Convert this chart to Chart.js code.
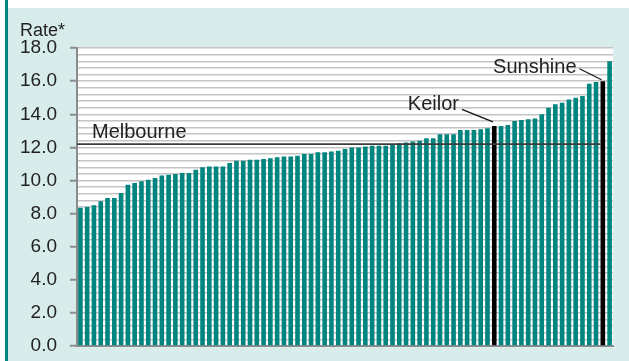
<!DOCTYPE html>
<html>
<head>
<meta charset="utf-8">
<script src="https://cdn.jsdelivr.net/npm/chart.js@4"></script>
<style>
  html, body { margin: 0; padding: 0; background: #fff; }
  #wrap { width: 629px; height: 361px; }
</style>
</head>
<body>
<div id="wrap"><canvas id="chart" width="629" height="361"></canvas></div>
<script>
// rate per area, sorted ascending
var rates = [
  8.35, 8.4, 8.5, 8.75, 8.95, 8.95, 9.25, 9.75, 9.85, 9.95,
  10.05, 10.15, 10.3, 10.35, 10.4, 10.45, 10.45, 10.65, 10.8, 10.85,
  10.85, 10.85, 11.05, 11.2, 11.2, 11.25, 11.25, 11.3, 11.35, 11.4,
  11.45, 11.45, 11.5, 11.6, 11.6, 11.7, 11.7, 11.75, 11.8, 11.9,
  12.0, 12.0, 12.05, 12.1, 12.1, 12.1, 12.2, 12.25, 12.3, 12.35,
  12.4, 12.55, 12.55, 12.8, 12.8, 12.8, 13.05, 13.05, 13.05, 13.1,
  13.15, 13.3, 13.3, 13.35, 13.6, 13.65, 13.7, 13.75, 14.0, 14.4,
  14.6, 14.7, 14.9, 15.0, 15.1, 15.85, 15.95, 16.0, 17.2
];
// only the two named areas carry a label
var areas = rates.map(function () { return ''; });
areas[61] = 'Keilor';
areas[77] = 'Sunshine';
var highlighted = ['Keilor', 'Sunshine'];
var melbourne = 12.2;
var melbourneLabel = 'Melbourne';
var yMin = 0, yMax = 18, yStep = 0.4, yMajor = 2;

var TEAL = '#00857f';
var FONT = 'Liberation Sans, Arial, Helvetica, sans-serif';

var barColors = areas.map(function (a) {
  return highlighted.indexOf(a) >= 0 ? '#000000' : TEAL;
});

function isMajor(v) {
  return Math.abs(v / yMajor - Math.round(v / yMajor)) < 1e-6;
}

// page frame: white strip on top/left, teal rule, pale panel, white plot
var frame = {
  id: 'frame',
  beforeDraw: function (chart) {
    var c = chart.ctx, a = chart.chartArea;
    c.save();
    c.fillStyle = '#ffffff';
    c.fillRect(0, 0, chart.width, chart.height);
    c.fillStyle = '#d9ecec';
    c.fillRect(8, 8, chart.width - 8, chart.height - 8);
    c.fillStyle = TEAL;
    c.fillRect(5, 0, 3, chart.height);
    c.fillStyle = '#ffffff';
    c.fillRect(a.left, a.top, a.right - a.left, a.bottom - a.top);
    c.restore();
  }
};

// leader line placement for each callout: end point off the bar's top-left
// corner, line vector, and text offset from the line start
var calloutStyle = {
  'Keilor':   { end: [1, -4],   d: [-31, -12.5], text: [-3, 1] },
  'Sunshine': { end: [1, -1.5], d: [-22, -11],   text: [-3, 4.5] }
};

// average line and the callouts for the named bars
var callouts = {
  id: 'callouts',
  afterDatasetsDraw: function (chart) {
    var c = chart.ctx, a = chart.chartArea;
    var y = chart.scales.y.getPixelForValue(melbourne);
    var bars = chart.getDatasetMeta(0).data;
    var last = bars[77];
    c.save();
    c.strokeStyle = '#3c3c3c';
    c.lineWidth = 1.6;
    c.beginPath();
    c.moveTo(a.left, y);
    c.lineTo(last.x - last.width / 2, y);
    c.stroke();

    c.font = '20px ' + FONT;
    c.fillStyle = '#222222';
    c.textBaseline = 'alphabetic';
    c.textAlign = 'left';
    c.fillText(melbourneLabel, a.left + 15, y - 6);

    c.textAlign = 'right';
    c.strokeStyle = '#111111';
    c.lineWidth = 1.2;
    areas.forEach(function (name, i) {
      if (!name) return;
      var s = calloutStyle[name], b = bars[i];
      var x1 = b.x - b.width / 2 + s.end[0], y1 = b.y + s.end[1];
      var x0 = x1 + s.d[0], y0 = y1 + s.d[1];
      c.beginPath();
      c.moveTo(x0, y0);
      c.lineTo(x1, y1);
      c.stroke();
      c.fillText(name, x0 + s.text[0], y0 + s.text[1]);
    });
    c.restore();
  }
};

new Chart(document.getElementById('chart').getContext('2d'), {
  type: 'bar',
  data: {
    labels: areas,
    datasets: [{
      data: rates,
      backgroundColor: barColors,
      borderWidth: 0,
      barPercentage: 0.68,
      categoryPercentage: 1.0
    }]
  },
  plugins: [frame, callouts],
  options: {
    responsive: false,
    animation: false,
    layout: { padding: { left: 20, top: 20, right: 16, bottom: 15 } },
    plugins: {
      legend: { display: false },
      tooltip: { enabled: false },
      title: {
        display: true,
        text: 'Rate*',
        align: 'start',
        color: '#222222',
        font: { family: FONT, size: 18, weight: 'normal' },
        padding: { top: 0, bottom: 6.5 }
      }
    },
    scales: {
      x: {
        grid: { display: false, drawTicks: false },
        border: { display: true, color: '#8c8c8c', width: 2 },
        ticks: { display: false },
        afterFit: function (scale) { scale.height = 0; }
      },
      y: {
        min: yMin,
        max: yMax,
        border: { display: true, color: '#8c8c8c', width: 2 },
        grid: {
          color: '#c4c4c4',
          lineWidth: 1.5,
          tickLength: 7,
          tickWidth: 2,
          tickColor: function (ctx) {
            return ctx.tick && isMajor(ctx.tick.value) ? '#8c8c8c' : 'rgba(0,0,0,0)';
          }
        },
        ticks: {
          stepSize: yStep,
          autoSkip: false,
          padding: 13,
          color: '#222222',
          font: { family: FONT, size: 19 },
          callback: function (v) {
            return isMajor(v) ? v.toFixed(1) : '';
          }
        },
        afterFit: function (scale) {
          scale.width = 57;
          scale.paddingTop = 0;
          scale.paddingBottom = 0;
        }
      }
    }
  }
});
</script>
</body>
</html>
